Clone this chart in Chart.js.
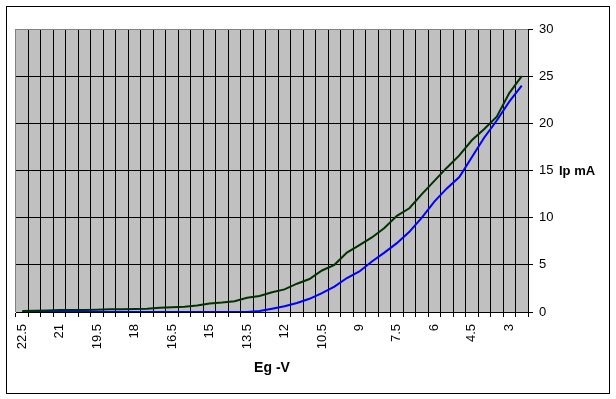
<!DOCTYPE html>
<html>
<head>
<meta charset="utf-8">
<script src="https://cdn.jsdelivr.net/npm/chart.js@4/dist/chart.umd.min.js"></script>
<style>
html,body{margin:0;padding:0;background:#fff;}
#wrap{position:relative;width:616px;height:399px;}
</style>
</head>
<body>
<div id="wrap"><canvas id="c" width="616" height="399"></canvas></div>
<script>
const categories = [22.5, 22, 21.5, 21, 20.5, 20, 19.5, 19, 18.5, 18, 17.5, 17, 16.5, 16, 15.5, 15, 14.5, 14, 13.5, 13, 12.5, 12, 11.5, 11, 10.5, 10, 9.5, 9, 8.5, 8, 7.5, 7, 6.5, 6, 5.5, 5, 4.5, 4, 3.5, 3, 2.5];
const labeledCategories = ['22.5', '21', '19.5', '18', '16.5', '15', '13.5', '12', '10.5', '9', '7.5', '6', '4.5', '3'];
const greenSeries = [0.1, 0.12, 0.15, 0.2, 0.2, 0.22, 0.25, 0.28, 0.3, 0.32, 0.35, 0.45, 0.5, 0.55, 0.7, 0.9, 1.0, 1.15, 1.5, 1.7, 2.1, 2.4, 3.0, 3.5, 4.4, 5.0, 6.3, 7.1, 7.9, 8.9, 10.2, 11.0, 12.5, 13.9, 15.3, 16.6, 18.2, 19.4, 20.7, 23.2, 25.0];
const blueSeries = [0, 0, 0, 0, 0, 0, 0, 0, 0, 0, 0, 0, 0, 0, 0, 0, 0, 0, 0, 0.1, 0.35, 0.6, 0.95, 1.4, 2.0, 2.7, 3.6, 4.3, 5.35, 6.3, 7.3, 8.5, 10.0, 11.7, 13.1, 14.3, 16.4, 18.5, 20.3, 22.3, 24.0];
const yTicks = [0, 5, 10, 15, 20, 25, 30];
const xTitle = 'Eg -V';
const yTitle = 'Ip mA';

const FONT = 'Liberation Sans, Arial, sans-serif';

const decor = {
  id: 'decor',
  beforeDraw(chart) {
    const ctx = chart.ctx;
    const a = chart.chartArea;
    ctx.save();
    ctx.fillStyle = '#ffffff';
    ctx.fillRect(0, 0, chart.width, chart.height);
    ctx.fillStyle = '#c0c0c0';
    ctx.fillRect(a.left, a.top, a.right - a.left, a.bottom - a.top);
    ctx.restore();
  },
  afterDraw(chart) {
    const ctx = chart.ctx;
    const a = chart.chartArea;
    const y = chart.scales.y;
    ctx.save();
    ctx.strokeStyle = '#000';
    ctx.lineWidth = 1;
    ctx.strokeRect(6.5, 6.5, 603, 387);
    ctx.fillStyle = '#000';
    ctx.font = 'bold 13px ' + FONT;
    ctx.textBaseline = 'middle';
    ctx.textAlign = 'left';
    ctx.fillText(yTitle, 559, y.getPixelForValue(15) + 1);
    ctx.font = 'bold 14px ' + FONT;
    ctx.textAlign = 'center';
    ctx.fillText(xTitle, (a.left + a.right) / 2, 368);
    ctx.restore();
  }
};

new Chart(document.getElementById('c'), {
  type: 'line',
  data: {
    labels: categories.map(String),
    datasets: [
      { label: 'A', data: greenSeries, borderColor: '#003300', borderWidth: 2, pointRadius: 0, tension: 0, fill: false },
      { label: 'B', data: blueSeries, borderColor: '#0000ff', borderWidth: 2, pointRadius: 0, tension: 0, fill: false }
    ]
  },
  options: {
    responsive: false,
    animation: false,
    events: [],
    layout: { padding: { left: 16, top: 29, right: 0, bottom: 0 } },
    plugins: { legend: { display: false }, tooltip: { enabled: false }, title: { display: false } },
    scales: {
      x: {
        type: 'category',
        offset: true,
        grid: {
          offset: true,
          display: true,
          drawOnChartArea: true,
          drawTicks: true,
          tickLength: 5,
          lineWidth: 1,
          color: (c) => c.index === 0 ? '#808080' : '#000000',
          tickColor: '#000000'
        },
        border: { display: true, color: '#000000', width: 1 },
        ticks: {
          autoSkip: false,
          maxRotation: 90,
          minRotation: 90,
          padding: 7,
          color: '#000',
          font: { family: FONT, size: 13 },
          callback: function (v, i) {
            const l = this.getLabelForValue(v);
            return labeledCategories.includes(l) ? l : '';
          }
        },
        afterFit: (s) => { s.height = 87; }
      },
      y: {
        position: 'right',
        min: 0,
        max: 30,
        afterBuildTicks: (s) => { s.ticks = yTicks.map(v => ({ value: v })); },
        grid: {
          drawTicks: true,
          tickLength: 5,
          lineWidth: 1,
          color: (c) => (c.tick && c.tick.value === 30) ? '#808080' : '#000000',
          tickColor: '#000000'
        },
        border: { display: true, color: '#000000', width: 1 },
        ticks: {
          padding: 6,
          color: '#000',
          font: { family: FONT, size: 13 }
        },
        afterFit: (s) => { s.width = 88; }
      }
    }
  },
  plugins: [decor]
});
</script>
</body>
</html>
